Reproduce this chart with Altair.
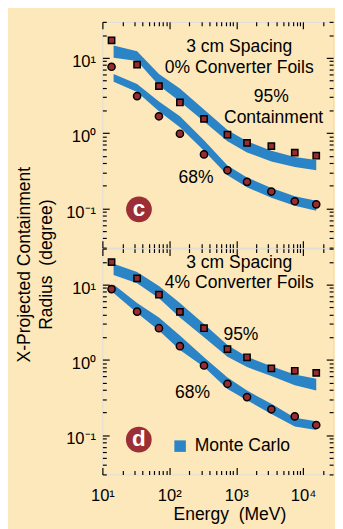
import altair as alt
import pandas as pd

BLUE = "#2b84c6"
RED = "#982c31"
BG = "#fde8bb"
FONT = "Liberation Sans"

# energies (MeV)
E_pts = [13.7, 33, 70, 144, 330, 740, 1450, 3350, 7500, 15700]
E_band = [14.7, 33, 70, 144, 330, 740, 1450, 3350, 7500, 15700]

# panel c: 0% converter foils
c95 = [17, 8.1, 4.2, 2.55, 1.54, 0.95, 0.74, 0.67, 0.55, 0.50]
c68 = [7.6, 3.1, 1.67, 0.98, 0.52, 0.32, 0.225, 0.167, 0.124, 0.113]
c95_hi = [14.6, 12.2, 6.1, 3.9, 2.06, 1.1, 0.78, 0.58, 0.48, 0.44]
c95_lo = [10.0, 9.1, 4.3, 2.63, 1.42, 0.78, 0.55, 0.42, 0.354, 0.32]
c68_hi = [6.1, 4.5, 2.63, 1.67, 0.8, 0.37, 0.257, 0.186, 0.145, 0.126]
c68_lo = [4.8, 3.5, 1.95, 1.19, 0.58, 0.276, 0.19, 0.138, 0.108, 0.093]

# panel d: 4% converter foils
d95 = [19.9, 12.1, 7.35, 4.33, 2.63, 1.39, 1.08, 0.77, 0.715, 0.67]
d68 = [8.7, 4.36, 2.63, 1.52, 0.84, 0.48, 0.32, 0.22, 0.177, 0.136]
d95_hi = [18.9, 14.7, 9.6, 5.7, 3.0, 1.57, 1.1, 0.82, 0.64, 0.56]
d95_lo = [13.4, 10.4, 6.6, 3.65, 2.0, 1.1, 0.8, 0.61, 0.46, 0.39]
d68_hi = [10.0, 5.7, 3.65, 2.1, 1.08, 0.58, 0.39, 0.26, 0.17, 0.153]
d68_lo = [7.7, 4.2, 2.45, 1.35, 0.8, 0.41, 0.29, 0.19, 0.13, 0.117]

# annotation texts and their data positions
c_text = ["3 cm Spacing", "0% Converter Foils", "95%", "Containment", "68%"]
c_text_E = [1110, 1110, 3350, 3620, 250]
c_text_R = [11.8, 6.36, 2.62, 1.38, 0.216]
d_text = ["3 cm Spacing", "4% Converter Foils", "95%", "68%"]
d_text_E = [1110, 1110, 1175, 222]
d_text_R = [16.5, 8.87, 1.86, 0.312]
badge_pos = {"c": (35.2, 0.097), "d": (35.0, 0.087)}
legend_label = "Monte Carlo"
legend_sym = (145, 0.0713)
legend_txt = (240, 0.0614)

X_DOMAIN = [10, 28000]
Y_DOMAIN = [0.03, 30]
X_MAJOR = [10, 100, 1000, 10000]
X_MINOR = [20, 30, 40, 50, 60, 70, 80, 90,
           200, 300, 400, 500, 600, 700, 800, 900,
           2000, 3000, 4000, 5000, 6000, 7000, 8000, 9000, 20000]
Y_MAJOR = [0.1, 1, 10]
Y_MINOR = [0.03, 0.04, 0.05, 0.06, 0.07, 0.08, 0.09,
           0.2, 0.3, 0.4, 0.5, 0.6, 0.7, 0.8, 0.9,
           2, 3, 4, 5, 6, 7, 8, 9, 20, 30]

X_LABELS = ("datum.value == 10 ? '10\u00b9' : datum.value == 100 ? '10\u00b2' : "
            "datum.value == 1000 ? '10\u00b3' : datum.value == 10000 ? '10\u2074' : ''")
Y_LABELS = ("datum.value == 10 ? '10\u00b9' : datum.value == 1 ? '10\u2070' : "
            "datum.value == 0.1 ? '10\u207b\u00b9' : ''")

MAJ = 7
MIN = 4

xs = alt.Scale(type="log", domain=X_DOMAIN, nice=False)
ys = alt.Scale(type="log", domain=Y_DOMAIN, nice=False)


def ax(orient, values, size, **extra):
    # inward ticks: axis line moved inside by the tick length, ticks reach the frame
    kw = dict(orient=orient, values=values, offset=-size, tickSize=size,
              domain=False, grid=False, tickColor="black", tickWidth=1.2,
              labels=False, title=None, labelOverlap=False, labelFlush=False)
    kw.update(extra)
    return alt.Axis(**kw)


def x_label_axis():
    return ax("bottom", X_MAJOR, MAJ, labels=True, labelExpr=X_LABELS,
              labelFontSize=17, labelColor="black", labelFont=FONT,
              labelBaseline="alphabetic", labelPadding=27,
              title="Energy\u00a0 (MeV)", titleFontSize=18, titleFont=FONT,
              titleFontWeight="normal", titleColor="black",
              titleX=130.5, titleY=53, titleBaseline="alphabetic")


def y_label_axis(with_title):
    extra = dict(labels=True, labelExpr=Y_LABELS, labelFontSize=17,
                 labelColor="black", labelFont=FONT, labelBaseline="alphabetic",
                 labelOffset=9, labelPadding=7)
    if with_title:
        extra.update(title=["X-Projected Containment", "Radius\u00a0 (degree)"],
                     titleFontSize=18, titleFont=FONT, titleFontWeight="normal",
                     titleColor="black", titleAngle=270, titleX=-82, titleY=249,
                     titleBaseline="alphabetic", titleAlign="center",
                     titleLineHeight=23)
    return ax("left", Y_MAJOR, MAJ, **extra)


def panel(p95, p68, hi95, lo95, hi68, lo68, texts, tE, tR, badge, bottom):
    band_df = pd.DataFrame({
        "E": E_band + E_band,
        "lo": lo95 + lo68,
        "hi": hi95 + hi68,
        "lvl": ["95%"] * len(E_band) + ["68%"] * len(E_band),
    })
    sq_df = pd.DataFrame({"E": E_pts, "R": p95})
    ci_df = pd.DataFrame({"E": E_pts, "R": p68})
    txt_df = pd.DataFrame({"t": texts, "E": tE, "R": tR})
    bx, by = badge_pos[badge]
    badge_df = pd.DataFrame({"t": [badge], "E": [bx], "R": [by]})

    xb = x_label_axis() if bottom else ax("bottom", X_MAJOR, MAJ)

    bands = alt.Chart(band_df).mark_area(color=BLUE, opacity=1).encode(
        x=alt.X("E:Q", scale=xs, axis=xb),
        y=alt.Y("lo:Q", scale=ys, axis=y_label_axis(not bottom)),
        y2="hi:Q",
        detail="lvl:N",
    )
    squares = alt.Chart(sq_df).mark_point(
        shape="square", filled=True, fill=RED, stroke="black",
        strokeWidth=1.5, size=42, opacity=1
    ).encode(
        x=alt.X("E:Q", scale=xs, axis=ax("bottom", X_MINOR, MIN)),
        y=alt.Y("R:Q", scale=ys, axis=ax("left", Y_MINOR, MIN)),
    )
    circles = alt.Chart(ci_df).mark_point(
        shape="circle", filled=True, fill=RED, stroke="black",
        strokeWidth=1.5, size=55, opacity=1
    ).encode(
        x=alt.X("E:Q", scale=xs, axis=ax("top", X_MAJOR, MAJ)),
        y=alt.Y("R:Q", scale=ys, axis=ax("right", Y_MAJOR, MAJ)),
    )
    txt = alt.Chart(txt_df).mark_text(
        font=FONT, fontSize=18, color="black", align="center", baseline="alphabetic"
    ).encode(
        x=alt.X("E:Q", scale=xs, axis=ax("top", X_MINOR, MIN)),
        y=alt.Y("R:Q", scale=ys, axis=ax("right", Y_MINOR, MIN)),
        text="t:N",
    )
    bdot = alt.Chart(badge_df).mark_point(
        shape="circle", filled=True, fill="#9b2f35", strokeWidth=0, size=700, opacity=1
    ).encode(
        x=alt.X("E:Q", scale=xs, axis=None),
        y=alt.Y("R:Q", scale=ys, axis=None),
    )
    btxt = alt.Chart(badge_df).mark_text(
        font=FONT, fontSize=23, fontWeight="bold", color="white",
        align="center", baseline="middle"
    ).encode(
        x=alt.X("E:Q", scale=xs, axis=None),
        y=alt.Y("R:Q", scale=ys, axis=None),
        text="t:N",
    )
    layers = [bands, squares, circles, txt, bdot, btxt]
    if bottom:
        lg_sym = pd.DataFrame({"E": [legend_sym[0]], "R": [legend_sym[1]]})
        lg_txt = pd.DataFrame({"t": [legend_label], "E": [legend_txt[0]], "R": [legend_txt[1]]})
        layers.append(alt.Chart(lg_sym).mark_point(
            shape="square", filled=True, fill=BLUE, strokeWidth=0, size=140, opacity=1
        ).encode(
            x=alt.X("E:Q", scale=xs, axis=None),
            y=alt.Y("R:Q", scale=ys, axis=None),
        ))
        layers.append(alt.Chart(lg_txt).mark_text(
            font=FONT, fontSize=18, color="black", align="left", baseline="alphabetic"
        ).encode(
            x=alt.X("E:Q", scale=xs, axis=None),
            y=alt.Y("R:Q", scale=ys, axis=None),
            text="t:N",
        ))
    return alt.layer(*layers).resolve_axis(x="independent", y="independent").properties(
        width=237, height=232
    )


top = panel(c95, c68, c95_hi, c95_lo, c68_hi, c68_lo, c_text, c_text_E, c_text_R, "c", False)
bot = panel(d95, d68, d95_hi, d95_lo, d68_hi, d68_lo, d_text, d_text_E, d_text_R, "d", True)

chart = alt.vconcat(top, bot, spacing=1, bounds="flush").properties(
    padding={"left": 7, "top": 5, "right": 0, "bottom": 5},
    background=BG,
).configure_view(stroke="black", strokeWidth=2, fill="white").configure(font=FONT)

chart.save("out.html", embed_options={"renderer": "svg", "actions": False})
